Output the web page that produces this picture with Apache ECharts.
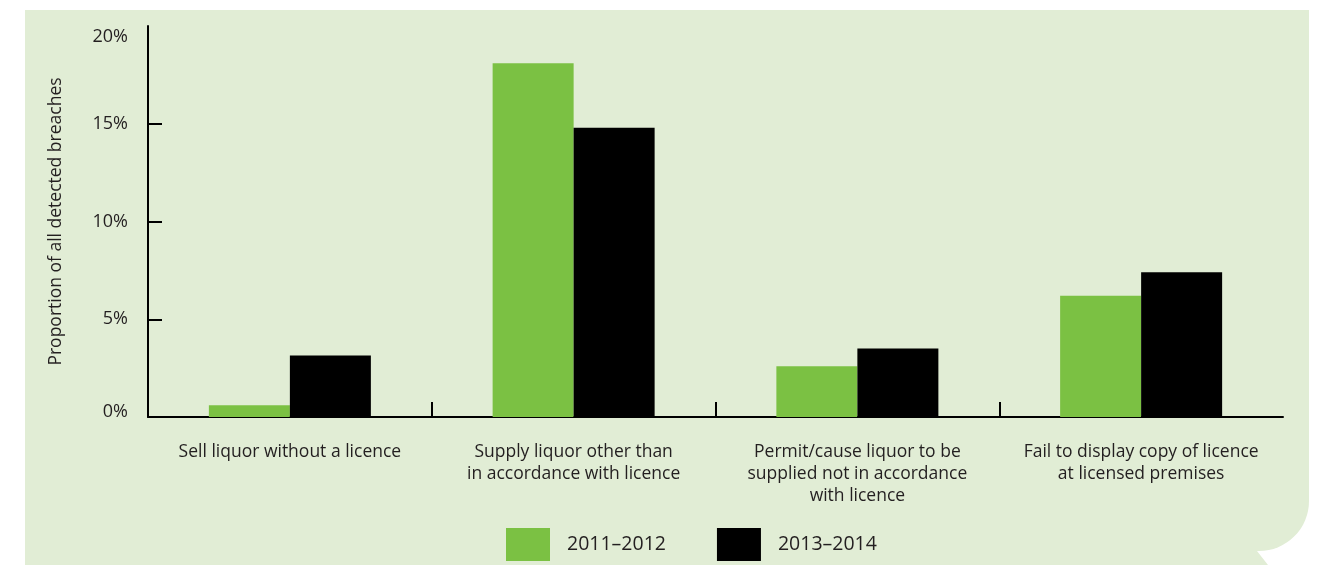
<!DOCTYPE html>
<html>
<head>
<meta charset="utf-8">
<script src="https://cdn.jsdelivr.net/npm/echarts@6/dist/echarts.min.js"></script>
<style>
  html, body { margin: 0; padding: 0; background: #fff; }
  #chart { width: 1318px; height: 565px; }
</style>
</head>
<body>
<div id="chart"></div>
<script>
// breach types
const categories = [
  "Sell liquor without a licence",
  "Supply liquor other than\nin accordance with licence",
  "Permit/cause liquor to be\nsupplied not in accordance\nwith licence",
  "Fail to display copy of licence\nat licensed premises"
];
const series2011 = [0.6, 18.1, 2.6, 6.2];
const series2013 = [3.15, 14.8, 3.5, 7.4];
const yTicks = [5, 10, 15];
// tick marks between categories (category boundaries)
const xTicks = [1, 2, 3];

const textColor = "#231f20";
const font = "'Open Sans', sans-serif";

const chart = echarts.init(document.getElementById("chart"));

const option = {
  animation: false,
  // panel with curled bottom-right corner
  graphic: [
    {
      type: "rect",
      z: -10,
      shape: { x: 25, y: 10, width: 1284, height: 541, r: [0, 0, 50, 0] },
      style: { fill: "#e1edd5" }
    },
    {
      type: "rect",
      z: -10,
      shape: { x: 25, y: 540, width: 1232, height: 25 },
      style: { fill: "#e1edd5" }
    },
    {
      type: "polygon",
      z: -10,
      shape: { points: [[1250, 545], [1257, 551], [1268, 565], [1250, 565]] },
      style: { fill: "#e1edd5" }
    }
  ],
  grid: {
    left: 148,
    right: 35,
    top: 26,
    bottom: 148
  },
  legend: {
    left: 506,
    bottom: 4,
    padding: 0,
    itemWidth: 44,
    itemHeight: 33,
    itemGap: 51,
    icon: "rect",
    textStyle: {
      color: textColor,
      fontFamily: font,
      fontSize: 19.5,
      padding: [0, 0, 0, 12]
    },
    data: ["2011–2012", "2013–2014"]
  },
  xAxis: [
    {
      type: "category",
      data: categories,
      axisLine: {
        lineStyle: { color: "#000", width: 2 }
      },
      axisTick: { show: false },
      axisLabel: {
        interval: 0,
        color: textColor,
        fontFamily: font,
        fontSize: 17.5,
        lineHeight: 22,
        margin: 24
      }
    },
    {
      // helper axis only for the boundary tick marks
      type: "value",
      position: "bottom",
      min: 0,
      max: 4,
      interval: 1,
      axisLine: { show: false },
      axisLabel: { show: false },
      splitLine: { show: false },
      axisTick: {
        show: true,
        inside: true,
        length: 15,
        customValues: xTicks,
        lineStyle: { color: "#000", width: 2 }
      }
    }
  ],
  yAxis: {
    type: "value",
    min: 0,
    max: 20,
    interval: 5,
    name: "Proportion of all detected breaches",
    nameLocation: "middle",
    nameGap: 83,
    nameTextStyle: {
      color: textColor,
      fontFamily: font,
      fontSize: 17.5
    },
    splitLine: { show: false },
    axisLine: {
      show: true,
      lineStyle: { color: "#000", width: 2 }
    },
    axisTick: {
      show: true,
      inside: true,
      length: 14,
      customValues: yTicks,
      lineStyle: { color: "#000", width: 2 }
    },
    axisLabel: {
      color: textColor,
      fontFamily: font,
      fontSize: 18,
      margin: 20,
      formatter: (v) => {
        if (v === 20) return "{top|" + v + "%}";
        if (v === 0) return "{bot|" + v + "%}";
        return v + "%";
      },
      rich: {
        top: { fontSize: 18, fontFamily: font, color: textColor, padding: [22, 0, 0, 0] },
        bot: { fontSize: 18, fontFamily: font, color: textColor, padding: [0, 0, 10, 0] }
      }
    }
  },
  series: [
    {
      name: "2011–2012",
      type: "bar",
      barWidth: 81,
      barGap: "0%",
      itemStyle: { color: "#7bc143" },
      data: series2011
    },
    {
      name: "2013–2014",
      type: "bar",
      barWidth: 81,
      itemStyle: { color: "#000" },
      data: series2013
    }
  ]
};

chart.setOption(option);
</script>
</body>
</html>
